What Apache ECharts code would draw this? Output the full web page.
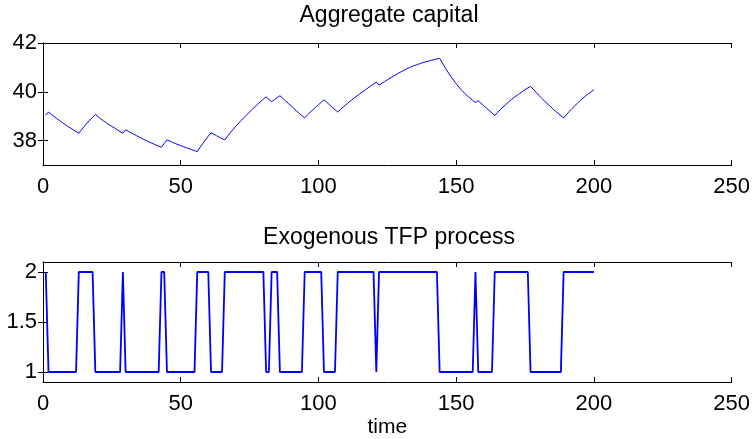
<!DOCTYPE html>
<html>
<head>
<meta charset="utf-8">
<script src="https://cdn.jsdelivr.net/npm/echarts@6/dist/echarts.min.js"></script>
<style>html,body{margin:0;padding:0;background:#fff}#c{width:753px;height:439px}</style>
</head>
<body>
<div id="c"></div>
<script>
const capital = [
 39.04, 39.17, 39.08, 38.99, 38.90, 38.82, 38.74, 38.66, 38.58, 38.51,
 38.44, 38.37, 38.30, 38.45, 38.59, 38.72, 38.84, 38.96, 39.07, 38.98,
 38.89, 38.81, 38.73, 38.65, 38.58, 38.51, 38.44, 38.37, 38.30, 38.44,
 38.38, 38.32, 38.26, 38.20, 38.14, 38.08, 38.03, 37.97, 37.92, 37.87,
 37.82, 37.77, 37.73, 37.88, 38.03, 37.98, 37.93, 37.88, 37.84, 37.79,
 37.75, 37.71, 37.67, 37.63, 37.59, 37.55, 37.72, 37.88, 38.03, 38.18,
 38.32, 38.26, 38.20, 38.14, 38.08, 38.03, 38.18, 38.32, 38.46, 38.59,
 38.71, 38.83, 38.95, 39.06, 39.17, 39.28, 39.39, 39.50, 39.60, 39.70,
 39.79, 39.69, 39.59, 39.68, 39.76, 39.84, 39.74, 39.63, 39.53, 39.43,
 39.33, 39.22, 39.12, 39.02, 38.93, 39.05, 39.16, 39.27, 39.37, 39.47,
 39.57, 39.67, 39.57, 39.47, 39.37, 39.27, 39.17, 39.28, 39.38, 39.47,
 39.57, 39.66, 39.75, 39.83, 39.92, 40.00, 40.08, 40.16, 40.24, 40.32,
 40.40, 40.27, 40.35, 40.42, 40.49, 40.56, 40.63, 40.69, 40.76, 40.82,
 40.88, 40.94, 40.99, 41.04, 41.08, 41.12, 41.16, 41.20, 41.23, 41.26,
 41.29, 41.32, 41.345, 41.37, 41.18, 40.99, 40.81, 40.64, 40.48, 40.33,
 40.19, 40.06, 39.95, 39.84, 39.74, 39.65, 39.56, 39.63, 39.53, 39.43,
 39.33, 39.23, 39.13, 39.03, 39.15, 39.27, 39.38, 39.48, 39.58, 39.68,
 39.77, 39.85, 39.93, 40.01, 40.09, 40.16, 40.22, 40.10, 39.98, 39.86,
 39.74, 39.63, 39.52, 39.42, 39.31, 39.21, 39.12, 39.02, 38.93, 39.06,
 39.19, 39.31, 39.42, 39.53, 39.64, 39.74, 39.83, 39.92, 40.00, 40.08
];
const tfp = [
 2,1,1,1,1,1,1,1,1,1,
 1,1,2,2,2,2,2,2,1,1,
 1,1,1,1,1,1,1,1,2,1,
 1,1,1,1,1,1,1,1,1,1,
 1,1,2,2,1,1,1,1,1,1,
 1,1,1,1,1,2,2,2,2,2,
 1,1,1,1,1,2,2,2,2,2,
 2,2,2,2,2,2,2,2,2,2,
 1,1,2,2,2,1,1,1,1,1,
 1,1,1,1,2,2,2,2,2,2,
 2,1,1,1,1,1,2,2,2,2,
 2,2,2,2,2,2,2,2,2,2,
 1,2,2,2,2,2,2,2,2,2,
 2,2,2,2,2,2,2,2,2,2,
 2,2,2,1,1,1,1,1,1,1,
 1,1,1,1,1,1,2,1,1,1,
 1,1,1,2,2,2,2,2,2,2,
 2,2,2,2,2,2,1,1,1,1,
 1,1,1,1,1,1,1,1,2,2,
 2,2,2,2,2,2,2,2,2,2
];
const time = capital.map((_, i) => i + 1);
const xTicks = [0, 50, 100, 150, 200, 250];
const capitalTicks = [38, 40, 42];
const tfpTicks = [1, 1.5, 2];
const titles = ['Aggregate capital', 'Exogenous TFP process'];
const xLabel = 'time';

const FONT = '"Liberation Sans", Arial, Helvetica, sans-serif';
const FS = 22;
const chart = echarts.init(document.getElementById('c'), null, {renderer: 'canvas'});
const axLine = {show: true, lineStyle: {color: '#000', width: 1}};
const tickIn = {show: true, inside: true, length: 5, lineStyle: {color: '#000'}};

function xAx(gi, pos, showLabel, name) {
  return {
    type: 'value', gridIndex: gi, position: pos, min: 0, max: 250, interval: 50,
    axisLine: axLine, axisTick: tickIn, splitLine: {show: false},
    axisLabel: {show: showLabel, customValues: xTicks, color: '#000', fontSize: FS, fontFamily: FONT, margin: 11},
    name: name || '', nameLocation: 'middle', nameGap: 35,
    nameTextStyle: {color: '#000', fontSize: 21, fontFamily: FONT}
  };
}
function yAx(gi, pos, mn, mx, ticks, showLabel) {
  return {
    type: 'value', gridIndex: gi, position: pos, min: mn, max: mx,
    axisLine: axLine,
    axisTick: Object.assign({customValues: ticks}, tickIn),
    splitLine: {show: false},
    axisLabel: {show: showLabel, customValues: ticks, color: '#000', fontSize: FS, fontFamily: FONT, margin: 6}
  };
}

const option = {
  animation: false,
  backgroundColor: '#fff',
  grid: [
    {left: 43, top: 43, width: 692, height: 122},
    {left: 43, top: 262, width: 692, height: 122}
  ],
  xAxis: [
    xAx(0, 'bottom', true), xAx(0, 'top', false),
    xAx(1, 'bottom', true, xLabel), xAx(1, 'top', false)
  ],
  yAxis: [
    yAx(0, 'left', 37, 42, capitalTicks, true), yAx(0, 'right', 37, 42, capitalTicks, false),
    yAx(1, 'left', 0.9, 2.1, tfpTicks, true), yAx(1, 'right', 0.9, 2.1, tfpTicks, false)
  ],
  graphic: [
    {type: 'text', x: 389, y: 16, style: {text: titles[0], fill: '#000', fontSize: 23, fontFamily: FONT, textAlign: 'center', textVerticalAlign: 'middle'}},
    {type: 'text', x: 389, y: 238, style: {text: titles[1], fill: '#000', fontSize: 23, fontFamily: FONT, textAlign: 'center', textVerticalAlign: 'middle'}}
  ],
  series: [
    {type: 'line', xAxisIndex: 0, yAxisIndex: 0, showSymbol: false, symbol: 'none',
     lineStyle: {color: '#0000ff', width: 1}, data: time.map((t, i) => [t, capital[i]])},
    {type: 'line', xAxisIndex: 2, yAxisIndex: 2, showSymbol: false, symbol: 'none',
     lineStyle: {color: '#0000ff', width: 1.8}, data: time.map((t, i) => [t, tfp[i]])}
  ]
};
chart.setOption(option);
</script>
</body>
</html>
